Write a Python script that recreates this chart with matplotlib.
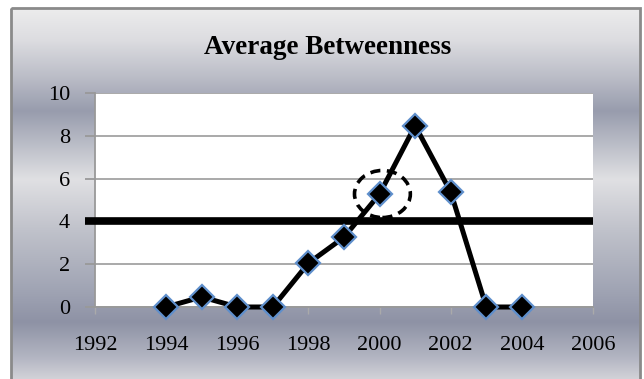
import numpy as np
import matplotlib
matplotlib.use('Agg')
import matplotlib.pyplot as plt
from matplotlib.patches import Ellipse, Rectangle
from matplotlib.colors import to_rgb

# data
years = [1994, 1995, 1996, 1997, 1998, 1999, 2000, 2001, 2002, 2003, 2004]
betweenness = [0, 0.47, 0, 0, 2.05, 3.26, 5.28, 8.47, 5.37, 0, 0]
threshold = 4
highlight_year = 2000
x_ticks = [1992, 1994, 1996, 1998, 2000, 2002, 2004, 2006]
y_ticks = [0, 2, 4, 6, 8, 10]

plt.rcParams['font.family'] = ['Liberation Serif', 'DejaVu Serif']

W, H = 644, 379
fig = plt.figure(figsize=(W / 100, H / 100), dpi=100)
fig.patch.set_facecolor('white')

# metallic vertical gradient for the chart area
stops_y = [0, 40, 75, 110, 150, 178, 230, 290, 320, 355, 379]
stops_c = ['#f0f0f0', '#dcdce0', '#bcbec8', '#989cad', '#c2c4cd', '#e0e0e3',
           '#bfc1ca', '#9fa3b3', '#8e92a5', '#b3b5c2', '#d6d6db']
rows = np.arange(H)
rgb = np.array([to_rgb(c) for c in stops_c])
grad = np.stack([np.interp(rows, stops_y, rgb[:, k]) for k in range(3)], axis=1)
img = np.repeat(grad[:, None, :], W, axis=1)

bg = fig.add_axes([0, 0, 1, 1], zorder=-10)
bg.set_xlim(0, W)
bg.set_ylim(H, 0)
bg.axis('off')
frame_x0, frame_x1, frame_y0 = 11, 640, 8
bg.imshow(img[frame_y0:, frame_x0:frame_x1],
          extent=[frame_x0, frame_x1, H + 2, frame_y0], aspect='auto')
bg.add_patch(Rectangle((frame_x0, frame_y0), frame_x1 - frame_x0, H,
                       fill=False, edgecolor='#8a8a8a', lw=2))
bg.text(328, 48, 'Average Betweenness', ha='center', va='center',
        fontsize=19.5, fontweight='bold')

ax = fig.add_axes([95 / W, 1 - 307 / H, (593 - 95) / W, (307 - 93) / H])
ax.set_facecolor('white')
ax.set_xlim(1992, 2006)
ax.set_ylim(0, 10)
ax.set_xticks(x_ticks)
ax.set_yticks(y_ticks)
ax.grid(axis='y', color='#a3a3a3', lw=1.3)
ax.set_axisbelow(True)
for side in ['top', 'right']:
    ax.spines[side].set_visible(False)
for side in ['left', 'bottom']:
    ax.spines[side].set_color('#999999')
    ax.spines[side].set_linewidth(1.3)
ax.tick_params(axis='y', length=7, width=1.3, color='#999999',
               labelsize=16, pad=11)
ax.tick_params(axis='x', length=5, width=1, color='#aaaaaa',
               labelsize=16, pad=16)

ax.axhline(threshold, xmin=-0.02, xmax=1, color='black', lw=5.5,
           solid_capstyle='butt', clip_on=False, zorder=3)

ax.plot(years, betweenness, color='black', lw=3.6, marker='D', ms=12,
        markerfacecolor='black', markeredgecolor='#5f8fcc', mew=1.6,
        clip_on=False, zorder=4)

hy = betweenness[years.index(highlight_year)]
ax.add_patch(Ellipse((highlight_year + 0.08, hy), 1.57, 2.2, fill=False,
                     edgecolor='black', lw=2.6, linestyle=(0, (2.8, 1.8)),
                     zorder=5))

fig.savefig('out.png', dpi=100)
